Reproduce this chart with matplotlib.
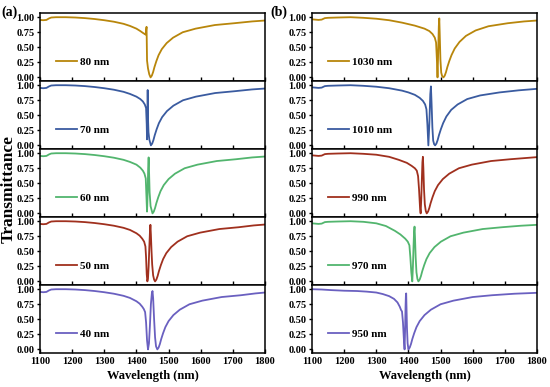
import matplotlib
matplotlib.use("Agg")
import matplotlib.pyplot as plt
import numpy as np

# ---------------- data ----------------
left_labels = ["80 nm", "70 nm", "60 nm", "50 nm", "40 nm"]
right_labels = ["1030 nm", "1010 nm", "990 nm", "970 nm", "950 nm"]
colors = ["#B8860B", "#3A5BA0", "#52B56E", "#A0301E", "#6A60C0"]
right_colors = ["#B8860B", "#3A5BA0", "#A0301E", "#52B56E", "#6A60C0"]

curve_80 = [(1100, .955), (1110, .95), (1120, .955), (1128, .98), (1135, .995), (1150, 1.0), (1180, 1.0),
            (1210, .995), (1240, .985), (1270, .97), (1300, .95), (1330, .925), (1360, .89), (1380, .855),
            (1400, .81), (1412, .77), (1420, .74), (1426, .72), (1429, .71), (1430.5, .80), (1431.5, .84),
            (1432.3, .55), (1433, .28), (1436, .15), (1440, .05), (1444, 0.0), (1448, .03), (1452, .09),
            (1456, .17), (1462, .27), (1469, .37), (1479, .47), (1494, .57), (1514, .66), (1544, .75),
            (1584, .81), (1644, .87), (1704, .90), (1760, .93), (1800, .945)]

curve_70 = [(1100, .955), (1110, .95), (1120, .955), (1128, .98), (1135, .995), (1150, 1.0), (1180, 1.0),
            (1210, .995), (1240, .985), (1270, .97), (1300, .95), (1330, .925), (1360, .89), (1380, .855),
            (1400, .81), (1412, .77), (1420, .73), (1426, .68), (1430, .62), (1432, .35), (1433, .10),
            (1434, .30), (1435, .92), (1436, .45), (1437.5, .22), (1440, .10), (1445, 0.0), (1449, .03),
            (1453, .09), (1457, .17), (1463, .27), (1470, .37), (1480, .47), (1495, .57), (1515, .66),
            (1545, .75), (1585, .81), (1645, .87), (1705, .90), (1760, .93), (1800, .945)]

curve_60 = [(1100, .955), (1110, .95), (1120, .955), (1128, .98), (1135, .995), (1150, 1.0), (1180, 1.0),
            (1210, .995), (1240, .985), (1270, .97), (1300, .95), (1330, .925), (1360, .89), (1380, .855),
            (1400, .81), (1412, .76), (1420, .71), (1425, .66), (1429, .58), (1431, .30), (1433, .03),
            (1435, .35), (1436.5, .75), (1438, .93), (1439.5, .65), (1441, .35), (1444, .12), (1450, 0.0),
            (1454, .03), (1458, .09), (1462, .17), (1468, .27), (1475, .37), (1485, .47), (1500, .57),
            (1520, .66), (1550, .75), (1590, .81), (1650, .87), (1710, .90), (1760, .93), (1800, .945)]

curve_50 = [(1100, .955), (1110, .95), (1120, .955), (1128, .98), (1135, .995), (1150, 1.0), (1180, 1.0),
            (1210, .995), (1240, .985), (1270, .97), (1300, .95), (1330, .925), (1360, .89), (1380, .855),
            (1400, .80), (1410, .76), (1418, .71), (1424, .66), (1428, .58), (1430, .40), (1432, .12),
            (1434, 0.0), (1436, .05), (1438, .25), (1440, .55), (1442, .82), (1443.5, .94), (1445, .78),
            (1447, .50), (1449, .28), (1452, .10), (1455, .03), (1458, 0.0), (1462, .03), (1466, .09),
            (1470, .17), (1476, .27), (1483, .37), (1493, .47), (1508, .57), (1528, .66), (1558, .75),
            (1598, .81), (1658, .87), (1718, .90), (1765, .93), (1800, .945)]

curve_40 = [(1100, .955), (1110, .95), (1120, .955), (1128, .98), (1135, .995), (1150, 1.0), (1180, 1.0),
            (1210, .995), (1240, .985), (1270, .97), (1300, .95), (1330, .925), (1360, .89), (1380, .855),
            (1400, .80), (1410, .76), (1418, .71), (1423, .67), (1427, .62), (1430, .45), (1433, .15),
            (1436, 0.0), (1439, .10), (1442, .40), (1445, .75), (1448, .93), (1450, .97), (1452, .85),
            (1455, .50), (1458, .20), (1461, .05), (1465, 0.0), (1469, .03), (1473, .09), (1477, .17),
            (1483, .27), (1490, .37), (1500, .47), (1515, .57), (1535, .66), (1565, .75), (1605, .81),
            (1665, .87), (1725, .90), (1770, .93), (1800, .945)]

curve_1030 = [(1100, .965), (1110, .96), (1120, .955), (1130, .96), (1140, .985), (1150, .99), (1180, .995),
              (1220, 1.0), (1260, .99), (1300, .975), (1340, .95), (1380, .91), (1420, .86), (1450, .81),
              (1465, .77), (1475, .72), (1482, .66), (1486, .58), (1488.5, .30), (1490.5, 0.0), (1492.5, .40),
              (1494.5, .85), (1496, .98), (1497.5, .70), (1499.5, .30), (1502, .08), (1505, .02), (1509, 0.0),
              (1513, .03), (1517, .09), (1521, .17), (1527, .27), (1534, .37), (1544, .48), (1559, .59),
              (1579, .69), (1609, .78), (1649, .85), (1709, .90), (1760, .93), (1800, .945)]

curve_1010 = [(1100, .965), (1110, .96), (1120, .955), (1130, .96), (1140, .985), (1150, .99), (1180, .995),
              (1220, 1.0), (1260, .99), (1300, .975), (1340, .95), (1380, .91), (1400, .88), (1420, .84),
              (1435, .79), (1445, .74), (1452, .68), (1456, .60), (1459, .35), (1462, 0.0), (1465, .35),
              (1468, .85), (1470, .98), (1472, .70), (1474.5, .30), (1477, .08), (1480, .02), (1483, 0.0),
              (1487, .03), (1491, .09), (1495, .17), (1501, .27), (1508, .37), (1518, .48), (1533, .59),
              (1553, .68), (1583, .77), (1623, .83), (1683, .88), (1743, .915), (1800, .94)]

curve_990 = [(1100, .965), (1110, .96), (1120, .955), (1130, .96), (1140, .985), (1150, .99), (1180, .995),
             (1220, 1.0), (1260, .99), (1300, .975), (1340, .94), (1370, .89), (1395, .84), (1410, .79),
             (1420, .75), (1426, .71), (1430, .62), (1433, .40), (1436, .10), (1438, 0.0), (1440, .25),
             (1442, .60), (1443.5, .85), (1445, .94), (1446.5, .75), (1448.5, .40), (1451, .15), (1454, .04),
             (1457, 0.0), (1461, .03), (1465, .09), (1469, .17), (1475, .27), (1482, .37), (1492, .47),
             (1507, .57), (1527, .66), (1557, .75), (1597, .81), (1657, .87), (1717, .90), (1800, .935)]

curve_970 = [(1100, .965), (1110, .96), (1120, .955), (1130, .96), (1140, .985), (1150, .99), (1180, .995),
             (1220, 1.0), (1260, .99), (1300, .965), (1330, .92), (1358, .84), (1375, .78), (1390, .71),
             (1398, .66), (1403, .60), (1406, .40), (1409, .15), (1412, 0.0), (1414, .25), (1416, .60),
             (1417.5, .82), (1419, .91), (1420.5, .72), (1422.5, .40), (1425, .15), (1428, .04), (1431, 0.0),
             (1435, .03), (1439, .09), (1443, .17), (1449, .27), (1456, .37), (1466, .47), (1481, .57),
             (1501, .66), (1531, .75), (1571, .81), (1631, .87), (1691, .90), (1750, .925), (1800, .94)]

curve_950 = [(1100, 1.0), (1130, .995), (1160, .985), (1200, .975), (1240, .97), (1270, .96), (1300, .945),
             (1320, .92), (1340, .885), (1355, .84), (1366, .78), (1373, .71), (1377, .655), (1380, .63),
             (1383, .45), (1386, .15), (1388, 0.0), (1389.5, .30), (1391, .70), (1392, .88), (1393, .93),
             (1394, .70), (1395.5, .35), (1397.5, .10), (1400, 0.0), (1404, .03), (1408, .09), (1412, .17),
             (1418, .27), (1425, .37), (1435, .47), (1450, .57), (1470, .66), (1500, .75), (1540, .81),
             (1600, .87), (1660, .90), (1730, .925), (1800, .94)]

left_curves = [curve_80, curve_70, curve_60, curve_50, curve_40]
right_curves = [curve_1030, curve_1010, curve_990, curve_970, curve_950]

x_ticks = [1100, 1200, 1300, 1400, 1500, 1600, 1700, 1800]
y_ticks = [0.0, 0.25, 0.5, 0.75, 1.0]

# ---------------- figure ----------------
plt.rcParams['font.family'] = ['Liberation Serif', 'DejaVu Serif']
plt.rcParams['font.weight'] = 'bold'

W, H = 550, 387
fig = plt.figure(figsize=(W / 100, H / 100), dpi=100)

top_px, panel_h = 13, 68
lefts = [40, 312]
ax_w = 225


def make_axes(col, row):
    x0 = lefts[col] / W
    y0 = 1 - (top_px + panel_h * (row + 1)) / H
    return fig.add_axes([x0, y0, ax_w / W, panel_h / H])


for col, (curves, labels, cols) in enumerate([(left_curves, left_labels, colors),
                                              (right_curves, right_labels, right_colors)]):
    for row in range(5):
        ax = make_axes(col, row)
        data = np.array(curves[row])
        ax.plot(data[:, 0], data[:, 1], color=cols[row], lw=1.3, label=labels[row])
        ax.set_xlim(1100, 1800)
        ax.set_ylim(-0.06, 1.07)
        ax.set_xticks(x_ticks)
        ax.set_yticks(y_ticks)
        ax.set_yticklabels([f"{v:.2f}" for v in y_ticks])
        ax.tick_params(axis='x', direction='in', length=3, width=1.0, labelsize=7.5, pad=3)
        ax.tick_params(axis='y', direction='out', length=2.5, width=1.0, labelsize=7.5, pad=1.5)
        for lab in ax.get_xticklabels() + ax.get_yticklabels():
            lab.set_fontweight('bold')
        if row < 4:
            ax.tick_params(axis='x', labelbottom=False)
        else:
            ax.set_xlabel("Wavelength (nm)", fontsize=9, fontweight='bold', labelpad=3)
        for sp in ax.spines.values():
            sp.set_linewidth(1.1)
        leg = ax.legend(loc='center left', bbox_to_anchor=(0.071, 0.274), frameon=False,
                        borderpad=0, borderaxespad=0, handlelength=1.9, handletextpad=0.3,
                        prop={'family': 'Liberation Serif', 'weight': 'bold', 'size': 8})

fig.text(0.015, 1 - 189 / H, "Transmittance", rotation=90, ha='center', va='center',
         fontsize=12.5, fontweight='bold')
fig.text(1 / W, 1 - 12 / H, "(a)", ha='left', va='center', fontsize=10, fontweight='bold')
fig.text(270 / W, 1 - 12 / H, "(b)", ha='left', va='center', fontsize=10, fontweight='bold')

fig.savefig("out.png", dpi=100)
